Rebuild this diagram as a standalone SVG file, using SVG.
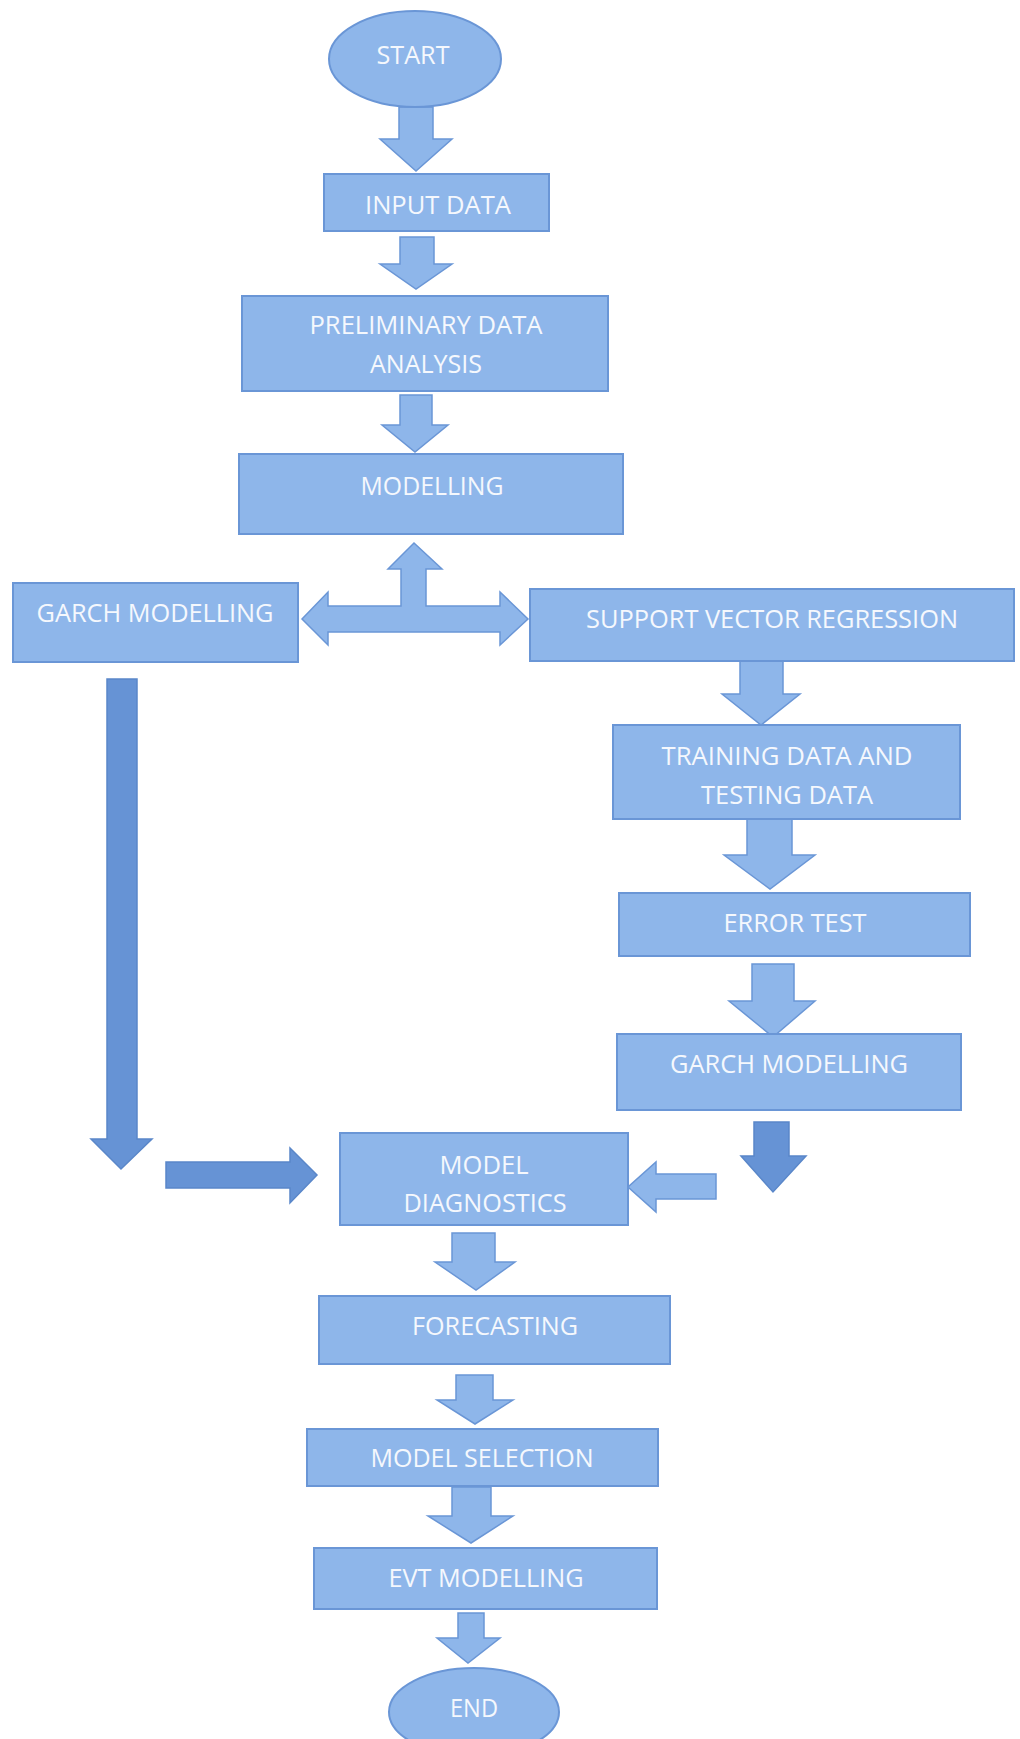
<svg xmlns="http://www.w3.org/2000/svg" width="1020" height="1739" viewBox="0 0 1020 1739">
<style>
.n{fill:#8eb6ea;stroke:#6a96d6;stroke-width:2}
.a{fill:#8eb6ea;stroke:#6a96d6;stroke-width:1.5}
.d{fill:#6693d5;stroke:#5a87c9;stroke-width:1.5}
.t{font-family:"Open Sans","Noto Sans",sans-serif;font-size:26px;fill:#f5f8fd;text-anchor:middle}
</style>
<rect width="1020" height="1739" fill="#ffffff"/>
<g id="connectors">
<polygon class="a" points="399,107 433,107 433,139 452,139 416,171 380,139 399,139"/>
<polygon class="a" points="400,237 434,237 434,264 452,264 416,289 380,264 400,264"/>
<polygon class="a" points="400,395 432,395 432,425 448,425 415,452 382,425 400,425"/>
<polygon class="a" points="302,619 328,592 328,606 401,606 401,569 388,569 414,543 442,569 426,569 426,606 500,606 500,592 528,619 500,645 500,632 328,632 328,645"/>
<polygon class="a" points="740,661 783,661 783,694 800,694 761,725 722,694 740,694"/>
<polygon class="a" points="747,819 792,819 792,855 815,855 770,889 724,855 747,855"/>
<polygon class="a" points="752,964 794,964 794,1001 815,1001 773,1037 729,1001 752,1001"/>
<polygon class="d" points="754,1122 789,1122 789,1156 806,1156 773,1192 741,1156 754,1156"/>
<polygon class="a" points="716,1174 716,1199 656,1199 656,1212 628,1187 656,1162 656,1174"/>
<polygon class="d" points="107,679 137,679 137,1139 152,1139 121,1169 91,1139 107,1139"/>
<polygon class="d" points="166,1162 290,1162 290,1148 317,1175 290,1203 290,1188 166,1188"/>
<polygon class="a" points="452,1233 495,1233 495,1262 515,1262 476,1290 435,1262 452,1262"/>
<polygon class="a" points="456,1375 493,1375 493,1400 513,1400 475,1424 437,1400 456,1400"/>
<polygon class="a" points="452,1487 491,1487 491,1516 513,1516 471,1543 428,1516 452,1516"/>
<polygon class="a" points="458,1613 484,1613 484,1638 500,1638 468,1663 437,1638 458,1638"/>
</g>
<g id="start"><ellipse class="n" cx="415" cy="59" rx="86" ry="48"/><text class="t" x="413" y="64" textLength="73" lengthAdjust="spacingAndGlyphs">START</text></g>
<g id="input-data"><rect class="n" x="324" y="174" width="225" height="57"/><text class="t" x="438" y="214" textLength="146" lengthAdjust="spacingAndGlyphs">INPUT DATA</text></g>
<g id="preliminary"><rect class="n" x="242" y="296" width="366" height="95"/><text class="t" x="426" y="334" textLength="233" lengthAdjust="spacingAndGlyphs">PRELIMINARY DATA</text><text class="t" x="426" y="373" textLength="112" lengthAdjust="spacingAndGlyphs">ANALYSIS</text></g>
<g id="modelling"><rect class="n" x="239" y="454" width="384" height="80"/><text class="t" x="432" y="495" textLength="143" lengthAdjust="spacingAndGlyphs">MODELLING</text></g>
<g id="garch-left"><rect class="n" x="13" y="583" width="285" height="79"/><text class="t" x="155" y="622" textLength="237" lengthAdjust="spacingAndGlyphs">GARCH MODELLING</text></g>
<g id="svr"><rect class="n" x="530" y="589" width="484" height="72"/><text class="t" x="772" y="628" textLength="372" lengthAdjust="spacingAndGlyphs">SUPPORT VECTOR REGRESSION</text></g>
<g id="training"><rect class="n" x="613" y="725" width="347" height="94"/><text class="t" x="787" y="765" textLength="251" lengthAdjust="spacingAndGlyphs">TRAINING DATA AND</text><text class="t" x="787" y="804" textLength="172" lengthAdjust="spacingAndGlyphs">TESTING DATA</text></g>
<g id="error-test"><rect class="n" x="619" y="893" width="351" height="63"/><text class="t" x="795" y="932" textLength="143" lengthAdjust="spacingAndGlyphs">ERROR TEST</text></g>
<g id="garch-right"><rect class="n" x="617" y="1034" width="344" height="76"/><text class="t" x="789" y="1073" textLength="238" lengthAdjust="spacingAndGlyphs">GARCH MODELLING</text></g>
<g id="model-diagnostics"><rect class="n" x="340" y="1133" width="288" height="92"/><text class="t" x="484" y="1174" textLength="89" lengthAdjust="spacingAndGlyphs">MODEL</text><text class="t" x="485" y="1212" textLength="163" lengthAdjust="spacingAndGlyphs">DIAGNOSTICS</text></g>
<g id="forecasting"><rect class="n" x="319" y="1296" width="351" height="68"/><text class="t" x="495" y="1335" textLength="166" lengthAdjust="spacingAndGlyphs">FORECASTING</text></g>
<g id="model-selection"><rect class="n" x="307" y="1429" width="351" height="57"/><text class="t" x="482" y="1467" textLength="223" lengthAdjust="spacingAndGlyphs">MODEL SELECTION</text></g>
<g id="evt-modelling"><rect class="n" x="314" y="1548" width="343" height="61"/><text class="t" x="486" y="1587" textLength="195" lengthAdjust="spacingAndGlyphs">EVT MODELLING</text></g>
<g id="end"><ellipse class="n" cx="474" cy="1712" rx="85" ry="44"/><text class="t" x="474" y="1717" textLength="48" lengthAdjust="spacingAndGlyphs">END</text></g>
</svg>
